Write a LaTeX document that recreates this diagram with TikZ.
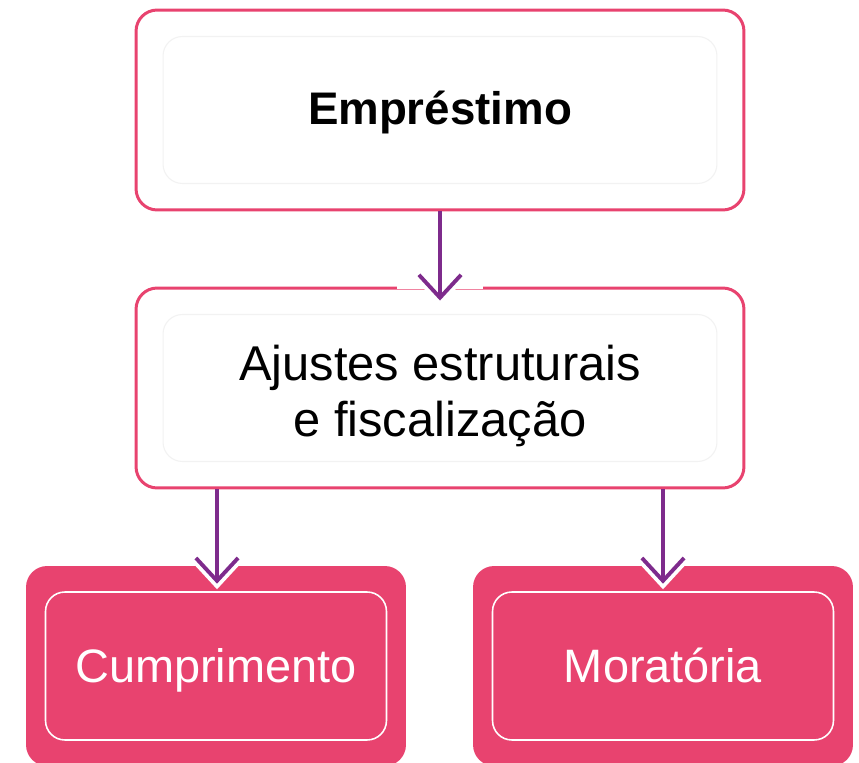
\documentclass[tikz,border=0pt]{standalone}
\usepackage{fontspec}
\setmainfont{Liberation Sans}
\usetikzlibrary{calc}
\usetikzlibrary{arrows.meta}

\definecolor{rosa}{HTML}{E8436F}
\definecolor{roxo}{HTML}{7E2B8C}

\tikzset{
    caixa/.style={draw=rosa,line width=1.7pt,rounded corners=12pt,fill=white,
        minimum width=12.16cm,minimum height=4cm,align=center},
    interna/.style={draw=black!5,line width=0.6pt,rounded corners=11pt,
        minimum width=11.08cm,minimum height=2.94cm},
    final/.style={fill=rosa,rounded corners=12pt,minimum width=7.6cm,minimum height=4cm},
    finalint/.style={draw=white,line width=0.9pt,rounded corners=11pt,
        minimum width=6.82cm,minimum height=2.96cm},
    finaltxt/.style={anchor=base,text=white,font=\fontsize{26.7}{30}\selectfont},
    seta/.style={roxo,line width=2.2pt,-{Straight Barb[length=13pt 0,width=24pt 0,sharp]}},
    halo/.style={white,line width=6.5pt,-{Straight Barb[length=13pt 0,width=24pt 0,sharp]}}
}

\begin{document}
\begin{tikzpicture}[x=0.02cm,y=-0.02cm]
            \useasboundingbox (0,0) rectangle (859,763);
            % the boxes
            \node[caixa] (emp) at (440,110) {};
            \node[interna] (empint) at (440,110) {};
            \node[anchor=base,font=\fontsize{26}{30}\selectfont\bfseries] (emptxt) at (440,125) {Empréstimo};
            \node[caixa] (adj) at (440,388) {};
            \node[interna] (adjint) at (440,388) {};
            \node[anchor=base,align=center,font=\fontsize{27.8}{32.3}\selectfont] (adjtxt) at (440,437)
                {Ajustes estruturais\\e fiscalização};
            \node[final] (cump) at (216,666) {};
            \node[finalint] (cumpint) at (216,666) {};
            \node[finaltxt] (cumptxt) at (216,682) {Cumprimento};
            \node[final] (mora) at (663,666) {};
            \node[finalint] (moraint) at (663,666) {};
            \node[finaltxt] (moratxt) at (663,682) {Moratória};
            % gap in the border above the middle box
            \draw[white,line width=3pt] ($(adj.north)+(-43,0)$) -- ($(adj.north)+(43,0)$);
            % the arrows
            \coordinate (t1) at ($(adj.north)+(0,14)$);
            \coordinate (t2) at ($(cump.north)+(1,18)$);
            \coordinate (t3) at ($(mora.north)+(0,18)$);
            \foreach \s/\t in {emp.south/t1,adj.south-|t2/t2,adj.south-|t3/t3}{
                \draw[halo] ($(\t)+(0,-35)$) -- ($(\t)+(0,5.6)$);
                \draw[seta] (\s) -- (\t);
            }
        \end{tikzpicture}
\end{document}
